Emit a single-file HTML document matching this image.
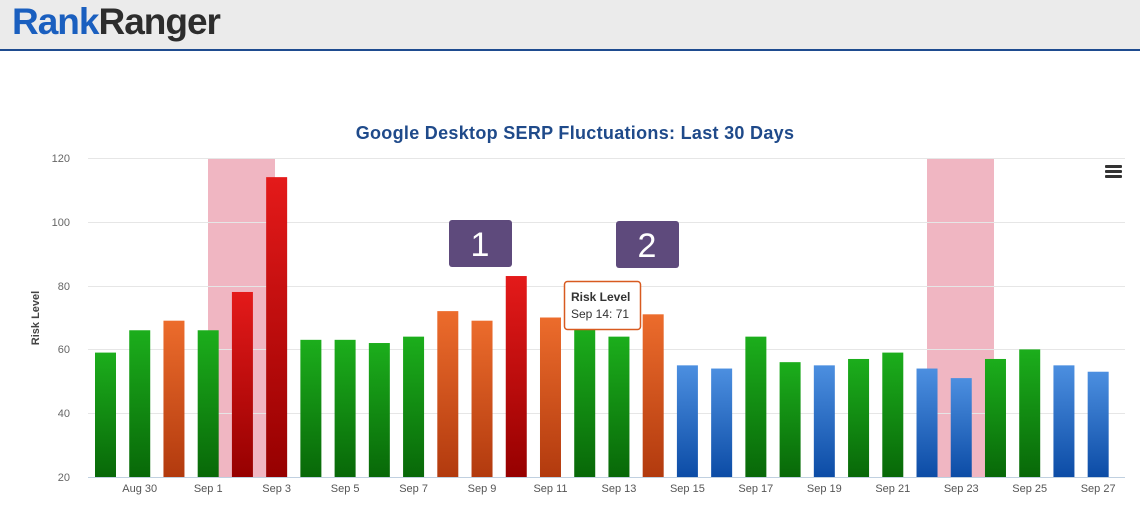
<!DOCTYPE html>
<html><head><style>
body{margin:0;width:1140px;height:509px;background:#fff;overflow:hidden;font-family:"Liberation Sans",sans-serif}
.hd{position:absolute;left:0;top:0;width:1140px;height:49px;background:#ebebeb;border-bottom:2px solid #1e4b8f}
.logo{position:absolute;left:12px;top:0px;font-size:37px;font-weight:bold;letter-spacing:-1px;line-height:44px}
</style></head><body>
<div class="hd"><div class="logo"><span style="color:#1a5fbf">Rank</span><span style="color:#2d2d2d">Ranger</span></div></div>
<svg width="1140" height="509" style="position:absolute;left:0;top:0" xmlns="http://www.w3.org/2000/svg">
<defs>
<linearGradient id="g" x1="0" y1="0" x2="0" y2="1"><stop offset="0" stop-color="#1cae1c"/><stop offset="1" stop-color="#086808"/></linearGradient>
<linearGradient id="o" x1="0" y1="0" x2="0" y2="1"><stop offset="0" stop-color="#ec6c2c"/><stop offset="1" stop-color="#b23a0e"/></linearGradient>
<linearGradient id="r" x1="0" y1="0" x2="0" y2="1"><stop offset="0" stop-color="#e41a1a"/><stop offset="1" stop-color="#960000"/></linearGradient>
<linearGradient id="b" x1="0" y1="0" x2="0" y2="1"><stop offset="0" stop-color="#4c8fe0"/><stop offset="1" stop-color="#0c4ca6"/></linearGradient>
</defs>
<text x="575" y="139" text-anchor="middle" font-size="18" letter-spacing="0.3" font-weight="bold" fill="#1f4a8a">Google Desktop SERP Fluctuations: Last 30 Days</text>
<rect x="208" y="158" width="67" height="319" fill="#f0b6c2"/>
<rect x="927" y="158" width="67" height="319" fill="#f0b6c2"/>
<g stroke="#e6e6e6" stroke-width="1">
<line x1="88" x2="1125" y1="158.5" y2="158.5"/><line x1="88" x2="1125" y1="222.5" y2="222.5"/><line x1="88" x2="1125" y1="286.5" y2="286.5"/><line x1="88" x2="1125" y1="349.5" y2="349.5"/><line x1="88" x2="1125" y1="413.5" y2="413.5"/>
</g>
<line x1="88" x2="1125" y1="477.5" y2="477.5" stroke="#c0d0e0"/>
<g font-size="11" fill="#666" text-anchor="end">
<text x="70" y="162">120</text><text x="70" y="226">100</text><text x="70" y="290">80</text><text x="70" y="353">60</text><text x="70" y="417">40</text><text x="70" y="481">20</text>
</g>
<text transform="translate(39,318) rotate(-90)" text-anchor="middle" font-size="11" font-weight="bold" fill="#444">Risk Level</text>
<g id="bars"></g>
<g id="lbl" font-size="11" fill="#555" text-anchor="middle"></g>
<g fill="#333"><rect x="1105" y="165" width="17" height="3" rx="1"/><rect x="1105" y="170" width="17" height="3" rx="1"/><rect x="1105" y="175" width="17" height="3" rx="1"/></g>
<rect x="449" y="220" width="63" height="47" rx="3" fill="#5e4a7c"/>
<text x="480" y="256" text-anchor="middle" font-size="34" fill="#fff">1</text>
<rect x="616" y="221" width="63" height="47" rx="3" fill="#5e4a7c"/>
<text x="647" y="257" text-anchor="middle" font-size="34" fill="#fff">2</text>
<rect x="564.5" y="281.5" width="76" height="48" rx="3" fill="#fff" stroke="#d85a20" stroke-width="1.5"/>
<text x="571" y="301" font-size="12" font-weight="bold" fill="#333">Risk Level</text>
<text x="571" y="318" font-size="12" fill="#333">Sep 14: 71</text>
</svg>
<script>
var v=[59,66,69,66,78,114,63,63,62,64,72,69,83,70,67,64,71,55,54,64,56,55,57,59,54,51,57,60,55,53];
var c="g g o g r r g g g g o o r o g g o b b g g b g g b b g g b b".split(" ");
var ns="http://www.w3.org/2000/svg",B=document.getElementById("bars"),L=document.getElementById("lbl");
var lab=["Aug 30","Sep 1","Sep 3","Sep 5","Sep 7","Sep 9","Sep 11","Sep 13","Sep 15","Sep 17","Sep 19","Sep 21","Sep 23","Sep 25","Sep 27"];
for(var i=0;i<30;i++){var cx=105.5+i*34.23,y=477-(v[i]-20)*3.19;var r=document.createElementNS(ns,"rect");
r.setAttribute("x",cx-10.5);r.setAttribute("y",y);r.setAttribute("width",21);r.setAttribute("height",477-y);r.setAttribute("fill","url(#"+c[i]+")");B.insertBefore(r,B.firstChild);
if(i%2==1){var t=document.createElementNS(ns,"text");t.setAttribute("x",cx);t.setAttribute("y",492);t.textContent=lab[(i-1)/2];L.appendChild(t);}}
</script>
</body></html>
